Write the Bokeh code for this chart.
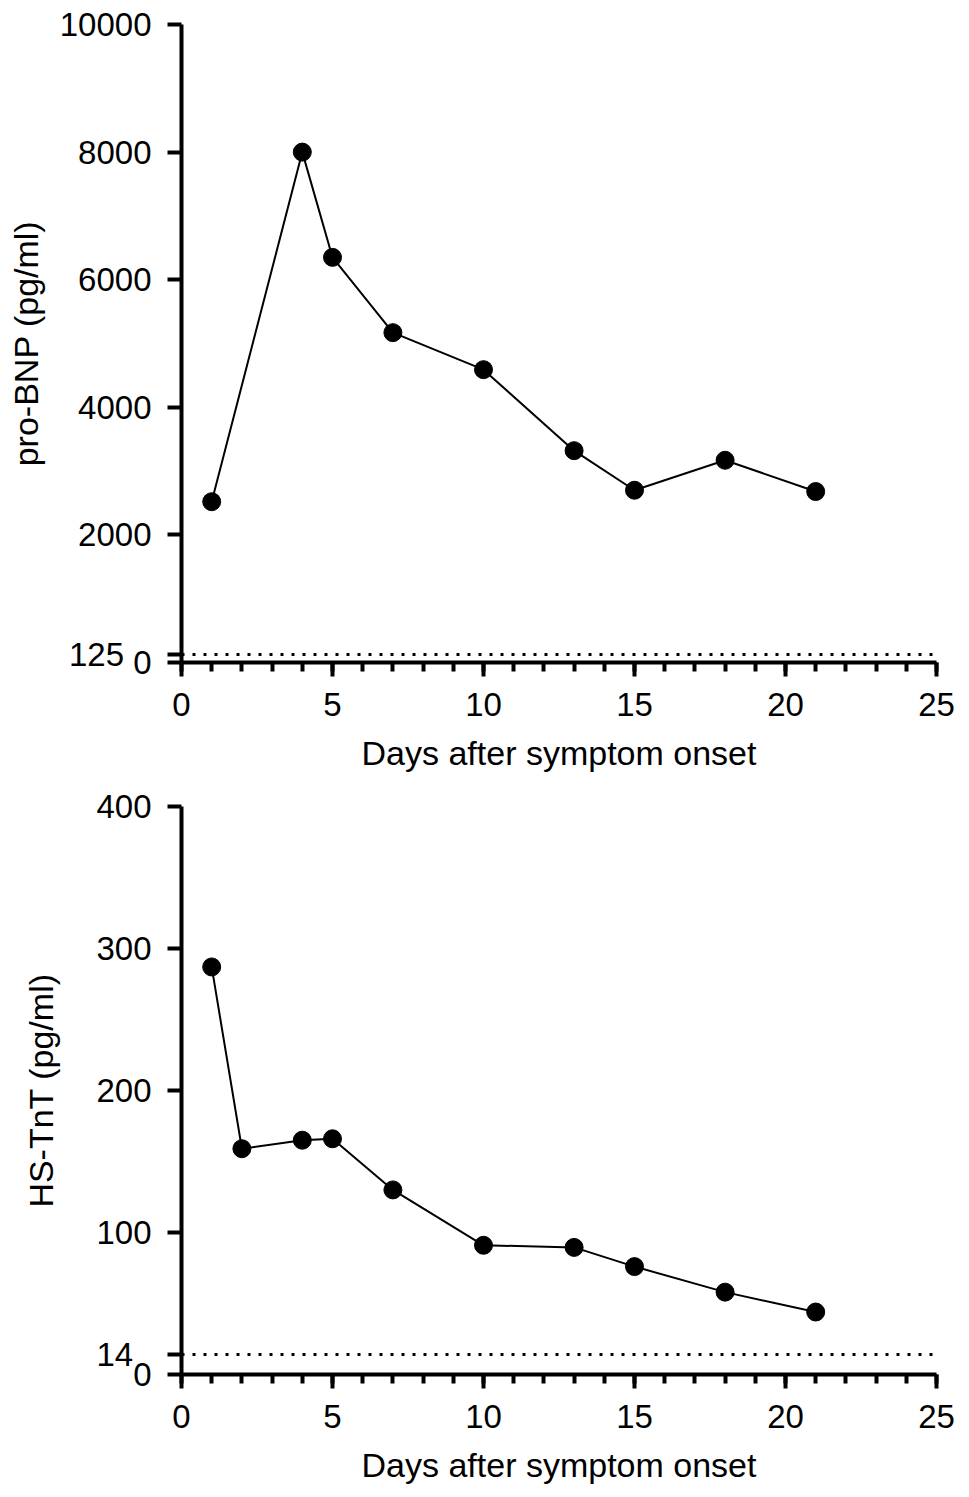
from bokeh.plotting import figure
from bokeh.layouts import column
from bokeh.models import Range1d, FixedTicker, SingleIntervalTicker, Span
from bokeh.embed import file_html
from bokeh.resources import INLINE

FONT = "Liberation Sans"

# ---- data ----
bnp_days = [1, 4, 5, 7, 10, 13, 15, 18, 21]
bnp_values = [2520, 8000, 6350, 5170, 4590, 3320, 2700, 3170, 2680]
bnp_ref = 125
bnp_ticks = [0, 2000, 4000, 6000, 8000, 10000]

tnt_days = [1, 2, 4, 5, 7, 10, 13, 15, 18, 21]
tnt_values = [287, 159, 165, 166, 130, 91, 89.5, 76, 58, 44]
tnt_ref = 14
tnt_ticks = [0, 100, 200, 300, 400]

x_label = "Days after symptom onset"

NBSP = "\u00a0"


def make_plot(days, values, ref, yticks, ylabel, height, border_top, border_bottom,
              label_standoff, ref_pad):
    p = figure(width=960, height=height, output_backend="svg", toolbar_location=None,
               x_range=Range1d(0, 25), y_range=Range1d(yticks[0], yticks[-1]),
               min_border_left=181, min_border_right=24,
               min_border_top=border_top, min_border_bottom=border_bottom)
    p.outline_line_color = None
    p.grid.visible = False
    p.background_fill_color = "white"

    # reference (upper limit) dotted line
    p.add_layout(Span(location=ref, dimension="width", line_color="black",
                      line_width=3, line_dash="3 8"))

    p.line(days, values, line_color="black", line_width=2)
    p.scatter(days, values, size=18, fill_color="black", line_color="black")

    # x axis
    xa = p.xaxis[0]
    xa.ticker = SingleIntervalTicker(interval=5, num_minor_ticks=5)
    xa.axis_label = x_label
    # y axis
    ya = p.yaxis[0]
    ya.ticker = FixedTicker(ticks=yticks + [ref])
    ya.major_label_overrides = {ref: str(ref) + NBSP * ref_pad}
    ya.axis_label = ylabel
    ya.axis_label_standoff = label_standoff
    ya.minor_tick_line_color = None

    for ax in (xa, ya):
        ax.axis_line_width = 4
        ax.axis_line_color = "black"
        ax.major_tick_line_width = 4
        ax.major_tick_line_color = "black"
        ax.minor_tick_line_width = 4
        ax.major_tick_out = 14
        ax.major_tick_in = 0
        ax.minor_tick_out = 9
        ax.minor_tick_in = 0
        ax.major_label_text_font = FONT
        ax.major_label_text_font_size = "33px"
        ax.major_label_text_color = "black"
        ax.axis_label_text_font = FONT
        ax.axis_label_text_font_size = "34px"
        ax.axis_label_text_font_style = "normal"
        ax.axis_label_text_color = "black"
        ax.major_label_standoff = 16
    xa.axis_label_standoff = 15
    xa.minor_tick_line_color = "black"
    return p


p1 = make_plot(bnp_days, bnp_values, bnp_ref, bnp_ticks, "pro-BNP (pg/ml)",
               785, 24, 123, 12, 3)
p2 = make_plot(tnt_days, tnt_values, tnt_ref, tnt_ticks, "HS-TnT (pg/ml)",
               707, 21, 118, 33, 2)

layout = column(p1, p2, spacing=0)
open("out.html", "w").write(file_html(layout, INLINE))
